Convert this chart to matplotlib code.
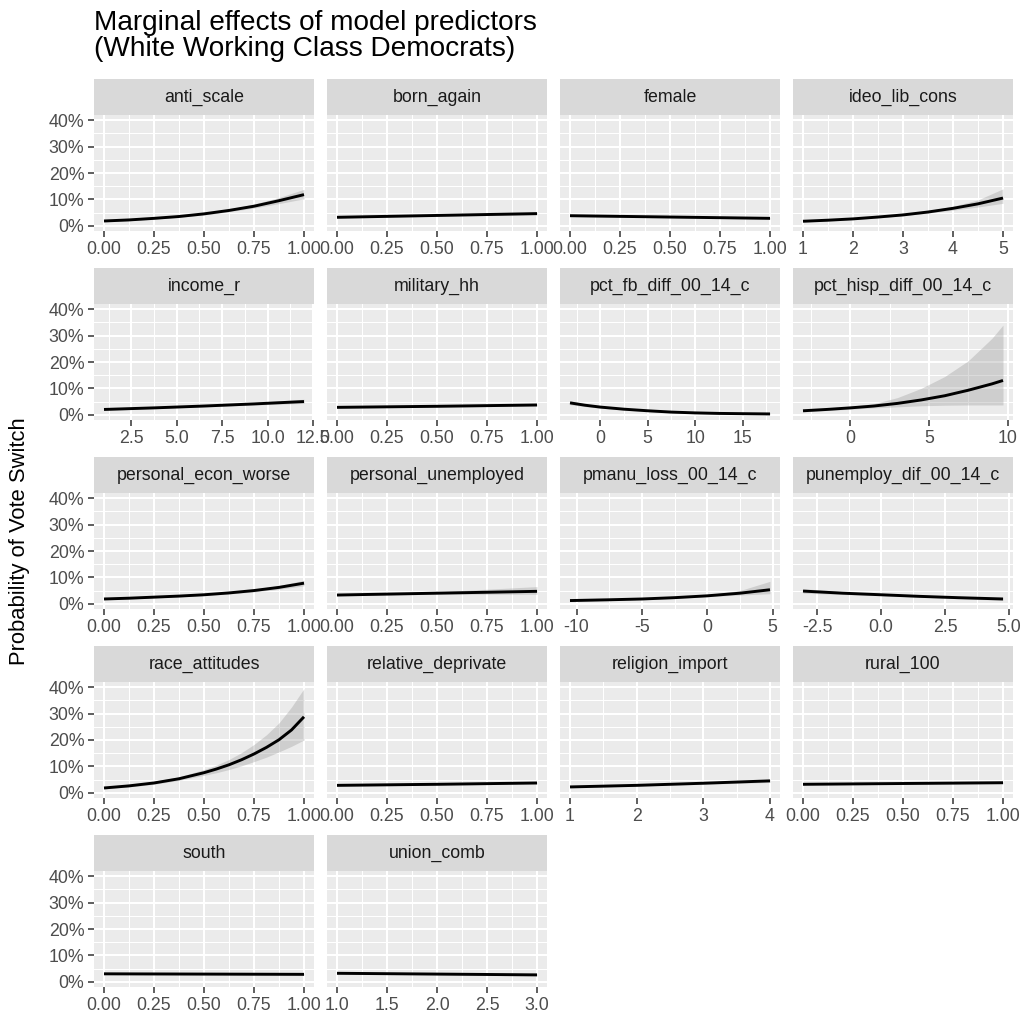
import matplotlib
matplotlib.use("Agg")
import matplotlib.pyplot as plt
from matplotlib.ticker import FixedLocator

plt.rcParams['font.family'] = ['Liberation Sans', 'DejaVu Sans']

# ---------------- data ----------------
title = "Marginal effects of model predictors\n(White Working Class Democrats)"
y_title = "Probability of Vote Switch"
y_ticks = [0.0, 0.1, 0.2, 0.3, 0.4]
y_ticklabels = ["0%", "10%", "20%", "30%", "40%"]

anti_scale_x = [0, 0.125, 0.25, 0.375, 0.5, 0.625, 0.75, 0.875, 1.0]
anti_scale_fit = [0.018, 0.022, 0.028, 0.035, 0.045, 0.058, 0.074, 0.095, 0.118]
anti_scale_lo = [0.015, 0.019, 0.025, 0.032, 0.041, 0.053, 0.067, 0.084, 0.102]
anti_scale_hi = [0.021, 0.025, 0.031, 0.038, 0.049, 0.063, 0.082, 0.107, 0.138]

born_again_x = [0, 0.5, 1.0]
born_again_fit = [0.032, 0.039, 0.046]
born_again_lo = [0.029, 0.036, 0.041]
born_again_hi = [0.035, 0.042, 0.051]

female_x = [0, 0.5, 1.0]
female_fit = [0.038, 0.033, 0.028]
female_lo = [0.035, 0.030, 0.025]
female_hi = [0.041, 0.036, 0.031]

ideo_lib_cons_x = [1, 1.5, 2, 2.5, 3, 3.5, 4, 4.5, 5]
ideo_lib_cons_fit = [0.017, 0.021, 0.026, 0.033, 0.041, 0.052, 0.066, 0.083, 0.105]
ideo_lib_cons_lo = [0.014, 0.018, 0.023, 0.030, 0.038, 0.048, 0.059, 0.071, 0.085]
ideo_lib_cons_hi = [0.021, 0.025, 0.030, 0.036, 0.045, 0.057, 0.074, 0.098, 0.140]

income_r_x = [1, 3.75, 6.5, 9.25, 12]
income_r_fit = [0.020, 0.026, 0.033, 0.041, 0.050]
income_r_lo = [0.017, 0.023, 0.030, 0.037, 0.043]
income_r_hi = [0.023, 0.029, 0.036, 0.046, 0.059]

military_hh_x = [0, 0.5, 1.0]
military_hh_fit = [0.028, 0.032, 0.037]
military_hh_lo = [0.025, 0.029, 0.033]
military_hh_hi = [0.031, 0.035, 0.041]

pct_fb_x = [-3.2, -1.6, 0, 2.5, 5, 7.5, 10, 12.5, 15, 17.9]
pct_fb_fit = [0.045, 0.036, 0.029, 0.021, 0.015, 0.010, 0.007, 0.005, 0.004, 0.003]
pct_fb_lo = [0.038, 0.031, 0.025, 0.018, 0.012, 0.007, 0.004, 0.002, 0.001, 0.000]
pct_fb_hi = [0.053, 0.041, 0.033, 0.024, 0.018, 0.013, 0.011, 0.009, 0.008, 0.008]

pct_hisp_x = [-3, -1.5, 0, 1.5, 3, 4.5, 6, 7.5, 9, 9.7]
pct_hisp_fit = [0.015, 0.020, 0.026, 0.033, 0.043, 0.056, 0.072, 0.093, 0.117, 0.130]
pct_hisp_lo = [0.011, 0.016, 0.021, 0.026, 0.030, 0.034, 0.036, 0.037, 0.037, 0.037]
pct_hisp_hi = [0.020, 0.025, 0.032, 0.042, 0.065, 0.100, 0.145, 0.205, 0.290, 0.340]

personal_econ_worse_x = [0, 0.125, 0.25, 0.375, 0.5, 0.625, 0.75, 0.875, 1.0]
personal_econ_worse_fit = [0.018, 0.021, 0.025, 0.029, 0.034, 0.041, 0.050, 0.062, 0.078]
personal_econ_worse_lo = [0.015, 0.018, 0.022, 0.026, 0.031, 0.037, 0.045, 0.055, 0.068]
personal_econ_worse_hi = [0.021, 0.024, 0.028, 0.032, 0.037, 0.045, 0.055, 0.069, 0.089]

personal_unemployed_x = [0, 0.5, 1.0]
personal_unemployed_fit = [0.033, 0.040, 0.047]
personal_unemployed_lo = [0.030, 0.036, 0.036]
personal_unemployed_hi = [0.036, 0.045, 0.065]

pmanu_x = [-10.5, -7.5, -5, -2.5, 0, 2.5, 4.8]
pmanu_fit = [0.012, 0.015, 0.018, 0.023, 0.030, 0.040, 0.053]
pmanu_lo = [0.009, 0.012, 0.015, 0.020, 0.027, 0.033, 0.038]
pmanu_hi = [0.016, 0.018, 0.021, 0.026, 0.034, 0.050, 0.085]

punemploy_x = [-3.05, -1.5, 0, 1.5, 3, 4.77]
punemploy_fit = [0.048, 0.040, 0.034, 0.028, 0.023, 0.018]
punemploy_lo = [0.040, 0.035, 0.031, 0.025, 0.019, 0.013]
punemploy_hi = [0.057, 0.046, 0.037, 0.031, 0.027, 0.024]

race_attitudes_x = [0, 0.125, 0.25, 0.375, 0.5, 0.5625, 0.625, 0.6875, 0.75, 0.8125, 0.875, 0.9375, 1.0]
race_attitudes_fit = [0.018, 0.026, 0.037, 0.053, 0.076, 0.090, 0.106, 0.125, 0.147, 0.172, 0.201, 0.238, 0.288]
race_attitudes_lo = [0.015, 0.022, 0.032, 0.047, 0.066, 0.076, 0.088, 0.102, 0.118, 0.135, 0.155, 0.176, 0.200]
race_attitudes_hi = [0.022, 0.030, 0.043, 0.060, 0.088, 0.105, 0.126, 0.152, 0.183, 0.220, 0.265, 0.325, 0.395]

relative_deprivate_x = [0, 0.5, 1.0]
relative_deprivate_fit = [0.028, 0.032, 0.037]
relative_deprivate_lo = [0.025, 0.029, 0.033]
relative_deprivate_hi = [0.031, 0.035, 0.041]

religion_import_x = [1, 2, 3, 4]
religion_import_fit = [0.022, 0.028, 0.036, 0.045]
religion_import_lo = [0.019, 0.025, 0.032, 0.039]
religion_import_hi = [0.025, 0.031, 0.040, 0.051]

rural_100_x = [0, 0.5, 1.0]
rural_100_fit = [0.032, 0.035, 0.038]
rural_100_lo = [0.029, 0.032, 0.034]
rural_100_hi = [0.035, 0.038, 0.042]

south_x = [0, 0.5, 1.0]
south_fit = [0.030, 0.029, 0.028]
south_lo = [0.027, 0.026, 0.025]
south_hi = [0.033, 0.032, 0.031]

union_comb_x = [1, 2, 3]
union_comb_fit = [0.032, 0.029, 0.026]
union_comb_lo = [0.029, 0.026, 0.022]
union_comb_hi = [0.035, 0.032, 0.030]

ticks_01 = [0, 0.25, 0.5, 0.75, 1.0]
labels_01 = ["0.00", "0.25", "0.50", "0.75", "1.00"]

panels = [
    ("anti_scale", anti_scale_x, anti_scale_fit, anti_scale_lo, anti_scale_hi, ticks_01, labels_01),
    ("born_again", born_again_x, born_again_fit, born_again_lo, born_again_hi, ticks_01, labels_01),
    ("female", female_x, female_fit, female_lo, female_hi, ticks_01, labels_01),
    ("ideo_lib_cons", ideo_lib_cons_x, ideo_lib_cons_fit, ideo_lib_cons_lo, ideo_lib_cons_hi,
     [1, 2, 3, 4, 5], ["1", "2", "3", "4", "5"]),
    ("income_r", income_r_x, income_r_fit, income_r_lo, income_r_hi,
     [2.5, 5, 7.5, 10, 12.5], ["2.5", "5.0", "7.5", "10.0", "12.5"]),
    ("military_hh", military_hh_x, military_hh_fit, military_hh_lo, military_hh_hi, ticks_01, labels_01),
    ("pct_fb_diff_00_14_c", pct_fb_x, pct_fb_fit, pct_fb_lo, pct_fb_hi,
     [0, 5, 10, 15], ["0", "5", "10", "15"]),
    ("pct_hisp_diff_00_14_c", pct_hisp_x, pct_hisp_fit, pct_hisp_lo, pct_hisp_hi,
     [0, 5, 10], ["0", "5", "10"]),
    ("personal_econ_worse", personal_econ_worse_x, personal_econ_worse_fit, personal_econ_worse_lo,
     personal_econ_worse_hi, ticks_01, labels_01),
    ("personal_unemployed", personal_unemployed_x, personal_unemployed_fit, personal_unemployed_lo,
     personal_unemployed_hi, ticks_01, labels_01),
    ("pmanu_loss_00_14_c", pmanu_x, pmanu_fit, pmanu_lo, pmanu_hi,
     [-10, -5, 0, 5], ["-10", "-5", "0", "5"]),
    ("punemploy_dif_00_14_c", punemploy_x, punemploy_fit, punemploy_lo, punemploy_hi,
     [-2.5, 0, 2.5, 5], ["-2.5", "0.0", "2.5", "5.0"]),
    ("race_attitudes", race_attitudes_x, race_attitudes_fit, race_attitudes_lo, race_attitudes_hi,
     ticks_01, labels_01),
    ("relative_deprivate", relative_deprivate_x, relative_deprivate_fit, relative_deprivate_lo,
     relative_deprivate_hi, ticks_01, labels_01),
    ("religion_import", religion_import_x, religion_import_fit, religion_import_lo, religion_import_hi,
     [1, 2, 3, 4], ["1", "2", "3", "4"]),
    ("rural_100", rural_100_x, rural_100_fit, rural_100_lo, rural_100_hi, ticks_01, labels_01),
    ("south", south_x, south_fit, south_lo, south_hi, ticks_01, labels_01),
    ("union_comb", union_comb_x, union_comb_fit, union_comb_lo, union_comb_hi,
     [1, 1.5, 2, 2.5, 3], ["1.0", "1.5", "2.0", "2.5", "3.0"]),
]

# ---------------- layout ----------------
W, H = 1026, 1017
fig = plt.figure(figsize=(W / 100, H / 100), dpi=100)
fig.patch.set_facecolor("white")

col_left = [94, 327, 560, 793]
panel_w = 220
row_top = [115, 304, 493, 682, 871]
panel_h = 116
strip_h = 36

TICK_FS = 12.8
tick_col = "#4D4D4D"


def minor_breaks(major, lim):
    step = major[1] - major[0]
    ext = [major[0] - step] + list(major) + [major[-1] + step]
    mids = [(a + b) / 2 for a, b in zip(ext[:-1], ext[1:])]
    return [m for m in mids if lim[0] <= m <= lim[1]]


def fig_rect(x, y, w, h):
    return [x / W, 1 - (y + h) / H, w / W, h / H]


ylim = (-0.02, 0.42)
for i, (name, xs, fit, lo, hi, xt, xtl) in enumerate(panels):
    r, c = divmod(i, 4)
    ax = fig.add_axes(fig_rect(col_left[c], row_top[r], panel_w, panel_h))
    ax.set_facecolor("#EBEBEB")
    for s in ax.spines.values():
        s.set_visible(False)
    span = max(xs) - min(xs)
    xlim = (min(xs) - 0.05 * span, max(xs) + 0.05 * span)
    ax.set_xlim(*xlim)
    ax.set_ylim(*ylim)
    ax.xaxis.set_major_locator(FixedLocator(xt))
    ax.set_xticklabels(xtl)
    ax.xaxis.set_minor_locator(FixedLocator(minor_breaks(xt, xlim)))
    ax.yaxis.set_major_locator(FixedLocator(y_ticks))
    ax.yaxis.set_minor_locator(FixedLocator(minor_breaks(y_ticks, ylim)))
    ax.grid(which="major", color="white", lw=1.5, zorder=0)
    ax.grid(which="minor", color="white", lw=0.75, zorder=0)
    ax.set_axisbelow(True)
    ax.tick_params(which="minor", length=0)
    ax.tick_params(which="major", length=4, width=1.1, color="#333333",
                   labelcolor=tick_col, labelsize=TICK_FS, pad=3)
    if c == 0:
        ax.set_yticklabels(y_ticklabels)
    else:
        ax.tick_params(axis="y", which="both", left=False, labelleft=False)

    ax.fill_between(xs, lo, hi, color="#999999", alpha=0.35, lw=0, zorder=2)
    ax.plot(xs, fit, color="black", lw=2.1, zorder=3, solid_capstyle="butt",
            solid_joinstyle="round")

    # strip
    sax = fig.add_axes(fig_rect(col_left[c], row_top[r] - strip_h, panel_w, strip_h))
    sax.set_facecolor("#D9D9D9")
    sax.set_xticks([])
    sax.set_yticks([])
    for s in sax.spines.values():
        s.set_visible(False)
    sax.text(0.5, 0.5, name, ha="center", va="center", fontsize=TICK_FS,
             color="#1A1A1A", transform=sax.transAxes)

fig.text(94 / W, 1 - 10 / H, title, ha="left", va="top", fontsize=20.2,
         color="black", linespacing=1.02)
fig.text(20 / W, 1 - 541 / H, y_title, ha="center", va="center", rotation=90,
         fontsize=15.8, color="black")

fig.savefig("out.png", dpi=100, facecolor="white")
